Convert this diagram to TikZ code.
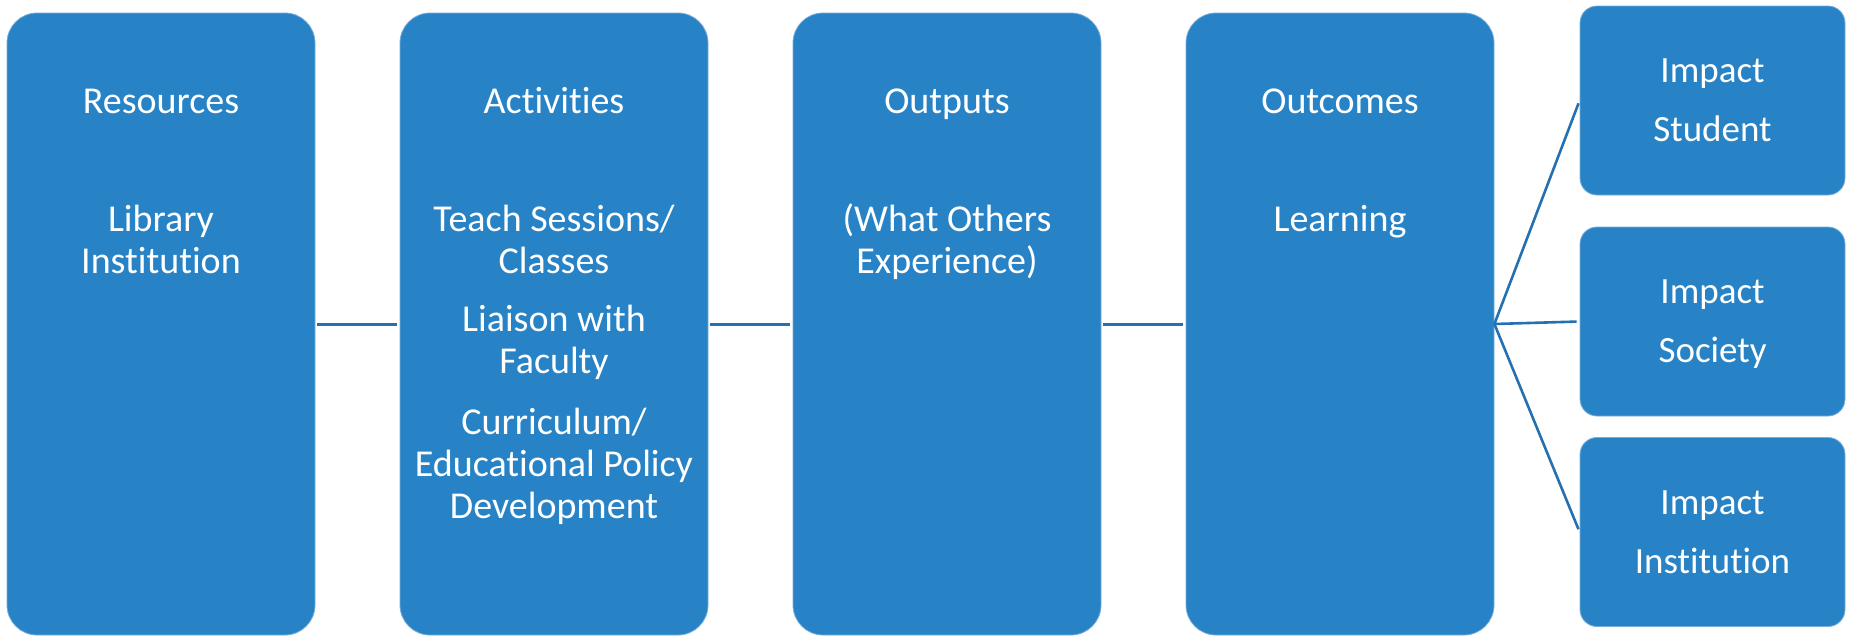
\documentclass[tikz,border=0pt]{standalone}
\usepackage{fontspec}
\setmainfont{Carlito}[Ligatures={NoCommon,NoRare},RawFeature={-liga;-clig;-calt}]
\newcommand{\nti}{t\kern0pt i}
\definecolor{boxfill}{RGB}{39,131,198}
\definecolor{boxedge}{RGB}{120,172,218}
\definecolor{linkcol}{RGB}{37,112,176}
\tikzset{
  bigbox/.style={draw=boxedge, line width=0.8pt, fill=boxfill, rounded corners=30pt, minimum width=308pt, minimum height=622pt, inner sep=0pt},
  smallbox/.style={draw=boxedge, line width=0.8pt, fill=boxfill, rounded corners=17pt, minimum width=265pt, minimum height=189pt, inner sep=0pt},
  txt/.style={text=white, anchor=base, inner sep=0pt, font=\fontsize{38}{44}\selectfont},
  stxt/.style={text=white, anchor=base, inner sep=0pt, font=\fontsize{37}{44}\selectfont},
  link/.style={draw=linkcol, line width=3pt}
}
\begin{document}
\begin{tikzpicture}[x=1pt,y=-1pt]
\useasboundingbox (0,0) rectangle (1850,637);
% main boxes
\node[bigbox] (b1) at (161,324) {};
\node[bigbox] (b2) at (554,324) {};
\node[bigbox] (b3) at (947,324) {};
\node[bigbox] (b4) at (1340,324) {};
% impact boxes
\node[smallbox] (i1) at (1712.5,100.5) {};
\node[smallbox] (i2) at (1712.5,321.5) {};
\node[smallbox] (i3) at (1712.5,532) {};
% texts box 1
\node[txt] (t1a) at (161,113) {Resources};
\node[txt] (t1b) at (161,231) {Library};
\node[txt] (t1c) at (161,273) {Ins\nti\kern0pt tu\nti on};
% box 2
\node[txt] (t2a) at (554,113) {Ac\nti vi\nti es};
\node[txt] (t2b) at (554,231) {Teach Sessions/};
\node[txt] (t2c) at (554,273) {Classes};
\node[txt] (t2d) at (554,331) {Liaison with};
\node[txt] (t2e) at (554,373) {Faculty};
\node[txt] (t2f) at (554,434) {Curriculum/};
\node[txt] (t2g) at (554,476) {Educa\nti onal Policy};
\node[txt] (t2h) at (554,518) {Development};
% box 3
\node[txt] (t3a) at (947,113) {Outputs};
\node[txt] (t3b) at (947,231) {(What Others};
\node[txt] (t3c) at (947,273) {Experience)};
% box 4
\node[txt] (t4a) at (1340,113) {Outcomes};
\node[txt] (t4b) at (1340,231) {Learning};
% impact texts
\node[stxt] (s1a) at (1712.5,82) {Impact};
\node[stxt] (s1b) at (1712.5,141) {Student};
\node[stxt] (s2a) at (1712.5,303) {Impact};
\node[stxt] (s2b) at (1712.5,362) {Society};
\node[stxt] (s3a) at (1712.5,514) {Impact};
\node[stxt] (s3b) at (1712.5,573) {Ins\nti\kern0pt tu\nti on};
% connectors
\draw[link, shorten <=2pt, shorten >=3pt] (b1.east) -- (b2.west);
\draw[link, shorten <=2pt, shorten >=3pt] (b2.east) -- (b3.west);
\draw[link, shorten <=2pt, shorten >=3pt] (b3.east) -- (b4.west);
\draw[link, line width=2.6pt, shorten >=3pt] (b4.east) -- (i1.west);
\draw[link, line width=2.6pt, shorten >=3pt] (b4.east) -- (i2.west);
\draw[link, line width=2.6pt, shorten >=3pt] (b4.east) -- (i3.west);
\end{tikzpicture}
\end{document}
